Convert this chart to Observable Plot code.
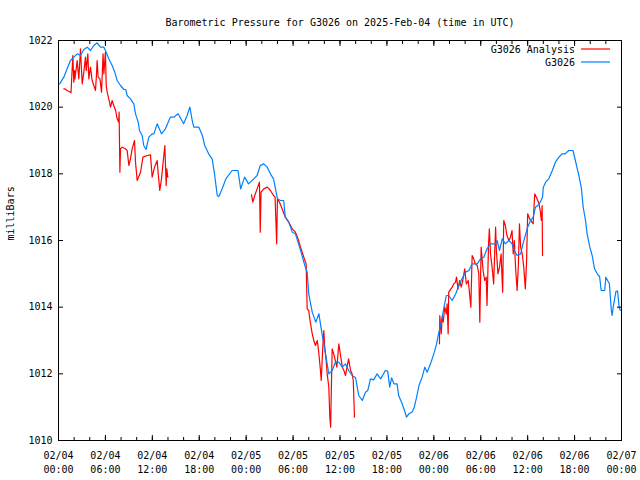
<!DOCTYPE html>
<html>
<head>
<meta charset="utf-8">
<script src="https://cdn.jsdelivr.net/npm/d3@7"></script>
<script src="https://cdn.jsdelivr.net/npm/@observablehq/plot@0.6"></script>
<style>
  html, body { margin: 0; padding: 0; background: #ffffff; }
</style>
</head>
<body>
<div id="chart"></div>
<script>
// ---------- text ----------
const titleText = "Barometric Pressure for G3026 on 2025-Feb-04 (time in UTC)";
const yAxisLabel = "milliBars";
const seriesNames = ["G3026 Analysis", "G3026"];
const seriesColors = ["#ff0000", "#0080ff"];

// ---------- axes ----------
const startUTC = Date.UTC(2025, 1, 4, 0, 0);   // 02/04 00:00
const xDomainHours = [0, 72];
const xMajorHours = [0, 6, 12, 18, 24, 30, 36, 42, 48, 54, 60, 66, 72];
const xMinorHours = [0, 2, 4, 6, 8, 10, 12, 14, 16, 18, 20, 22, 24, 26, 28, 30, 32, 34, 36, 38, 40, 42, 44, 46, 48, 50, 52, 54, 56, 58, 60, 62, 64, 66, 68, 70, 72];
const yDomain = [1010, 1022];
const yTicks = [1010, 1012, 1014, 1016, 1018, 1020, 1022];

// ---------- G3026 observations (hours since 02/04 00:00 UTC, mb) ----------
const obsHours = [0.15,0.68,1.1,1.53,1.96,2.39,2.81,3.24,3.67,4.09,4.52,4.94,5.37,5.8,6.0,6.43,6.86,7.2,7.5,7.93,8.35,8.6,8.78,9.2,9.63,9.85,10.19,10.36,10.7,10.9,11.2,11.55,11.98,12.2,12.62,13.17,13.68,14.3,14.74,15.3,16.0,16.45,16.8,17.1,17.3,17.95,18.4,18.7,19.2,19.65,19.95,20.3,20.5,20.9,21.4,22.2,22.95,23.3,23.8,24.3,24.97,25.4,25.8,26.25,26.7,27.1,27.5,28.0,28.4,28.8,29.0,29.45,29.9,30.3,30.7,31.15,31.5,31.8,32.0,32.45,32.9,33.3,33.7,34.15,34.57,35.0,35.4,35.85,36.3,36.7,37.1,37.55,38.0,38.2,38.4,38.85,39.26,39.55,39.9,40.3,40.75,41.2,41.8,42.1,42.36,42.6,42.9,43.3,43.5,43.95,44.25,44.5,44.8,45.2,45.5,45.8,46.1,46.5,46.85,47.15,47.57,48.0,48.35,48.6,48.95,49.3,49.6,49.9,50.35,50.8,51.2,51.6,52.05,52.5,52.9,53.55,53.97,54.4,54.8,55.25,55.9,56.1,56.4,56.75,57.15,57.6,58.0,58.3,58.65,59.1,59.4,59.75,60.0,60.36,60.7,61.0,61.3,61.6,61.9,62.0,62.3,62.7,63.15,63.55,64.0,64.4,64.8,65.25,65.8,66.1,66.5,66.85,67.1,67.4,67.6,67.95,68.25,68.55,68.9,69.2,69.4,69.85,70.0,70.45,70.7,70.8,71.0,71.3,71.5,71.7,71.85];
const obsPressure = [1020.7,1020.9,1021.15,1021.4,1021.5,1021.6,1021.55,1021.73,1021.8,1021.7,1021.85,1021.93,1021.8,1021.8,1021.7,1021.45,1021.25,1021.05,1020.8,1020.65,1020.53,1020.53,1020.35,1020.25,1020.1,1019.8,1019.55,1019.3,1019.15,1018.85,1018.73,1019.1,1019.2,1019.2,1019.5,1019.2,1019.35,1019.7,1019.7,1019.8,1019.5,1019.75,1020.0,1019.6,1019.4,1019.4,1019.15,1018.85,1018.6,1018.45,1018.0,1017.35,1017.32,1017.53,1017.85,1018.1,1018.1,1017.55,1017.9,1017.7,1017.85,1017.95,1018.25,1018.3,1018.2,1018.0,1017.85,1017.25,1017.2,1017.2,1016.7,1016.55,1016.25,1016.2,1015.9,1015.55,1015.25,1015.05,1014.4,1013.85,1013.55,1013.8,1013.2,1012.6,1012.0,1012.1,1012.35,1012.35,1012.2,1012.3,1012.1,1011.95,1011.88,1011.6,1011.35,1011.2,1011.45,1011.5,1011.85,1011.82,1012.0,1011.85,1012.1,1012.08,1011.6,1011.88,1011.7,1011.7,1011.35,1011.1,1010.9,1010.7,1010.8,1010.85,1011.0,1011.3,1011.65,1011.9,1012.2,1012.05,1012.3,1012.6,1012.9,1013.2,1013.55,1014.0,1014.35,1014.35,1014.2,1014.4,1014.65,1014.85,1015.05,1015.1,1015.3,1015.3,1015.45,1015.5,1015.75,1015.9,1015.9,1016.0,1015.7,1016.05,1015.9,1016.0,1015.9,1015.7,1015.55,1015.6,1015.9,1016.2,1016.4,1016.6,1016.7,1017.0,1017.05,1017.15,1017.3,1017.6,1017.75,1017.85,1018.1,1018.35,1018.5,1018.6,1018.6,1018.7,1018.7,1018.4,1018.0,1017.6,1017.0,1016.6,1016.2,1015.8,1015.55,1015.15,1015.0,1014.92,1014.5,1014.5,1014.9,1014.7,1013.9,1013.75,1014.1,1014.48,1014.48,1014.0,1013.9];

// ---------- G3026 Analysis (null = gap in the record) ----------
const anaHours = [0.68,0.8,1.1,1.53,1.6,1.83,1.96,2.05,2.1,2.39,2.6,2.81,3.03,3.24,3.45,3.55,3.75,3.88,4.09,4.3,4.52,4.73,4.85,4.94,5.07,5.3,5.5,5.7,5.8,6.0,6.1,6.23,6.52,6.65,6.86,7.07,7.3,7.5,7.7,7.75,7.85,7.93,8.14,8.57,8.78,9.0,9.2,9.42,9.72,9.85,10.06,10.49,10.8,11.34,11.76,11.98,12.28,12.62,12.7,12.95,13.17,13.34,13.6,13.77,13.85,13.98,
  19.0,
  24.68,24.85,25.1,25.4,25.7,25.8,25.9,26.25,26.7,27.1,27.5,27.7,27.9,28.0,28.26,28.6,29.0,29.45,29.9,30.3,30.64,30.95,31.37,31.67,31.8,32.0,32.2,32.45,32.65,32.86,33.1,33.3,33.5,33.6,33.8,33.93,34.05,34.23,34.36,34.57,34.7,34.8,34.9,35.0,35.2,35.4,35.6,35.85,36.1,36.3,36.5,36.7,36.9,37.1,37.35,37.55,37.7,37.85,
  43.0,
  48.72,48.76,48.95,49.06,49.2,49.4,49.6,49.7,49.83,49.9,50.35,50.55,50.77,50.9,51.1,51.3,51.5,51.7,51.95,52.15,52.4,52.55,52.73,52.9,53.1,53.3,53.55,53.75,53.88,54.05,54.3,54.5,54.7,54.8,55.0,55.1,55.25,55.45,55.65,55.9,56.0,56.2,56.4,56.6,56.8,56.94,57.15,57.35,57.6,57.8,58.0,58.15,58.3,58.45,58.65,58.8,58.95,59.1,59.3,59.5,59.7,59.85,60.0,60.25,60.55,60.7,60.9,61.2,61.45,61.6,61.75,61.85,61.9];
const anaPressure = [1020.55,1020.55,1020.5,1020.45,1020.43,1021.55,1020.75,1021.1,1020.85,1021.4,1020.85,1021.75,1020.7,1021.05,1021.5,1021.1,1021.6,1020.85,1021.2,1020.8,1020.65,1020.5,1020.95,1021.4,1020.9,1020.85,1020.45,1021.6,1021.0,1021.65,1020.65,1020.45,1020.15,1020.0,1020.2,1020.05,1019.9,1019.65,1019.55,1019.85,1018.05,1018.75,1018.8,1018.75,1018.7,1018.25,1018.45,1018.75,1019.0,1018.35,1017.8,1018.05,1018.5,1018.55,1018.57,1017.9,1018.2,1018.4,1018.15,1017.5,1017.85,1018.25,1018.85,1017.65,1018.15,1017.9,
  null,
  1017.37,1017.15,1017.35,1017.55,1017.75,1016.25,1017.45,1017.55,1017.6,1017.5,1017.35,1017.3,1015.9,1017.25,1017.15,1016.95,1016.7,1016.55,1016.35,1016.25,1016.05,1015.8,1015.5,1015.3,1013.95,1013.9,1013.55,1013.2,1013.0,1012.85,1013.0,1012.6,1012.1,1011.8,1012.8,1013.3,1012.8,1012.4,1012.0,1011.6,1010.7,1010.4,1011.6,1012.75,1012.6,1012.4,1012.2,1012.9,1012.5,1012.2,1012.1,1011.95,1012.2,1012.45,1012.1,1012.0,1011.8,1010.7,
  null,
  1012.9,1013.75,1013.2,1013.7,1013.55,1014.0,1013.8,1014.1,1013.2,1014.45,1014.6,1014.7,1014.75,1014.9,1014.55,1014.8,1014.6,1014.8,1015.15,1014.7,1014.8,1014.45,1014.0,1015.55,1015.45,1015.3,1015.25,1015.0,1013.55,1015.8,1015.1,1014.8,1014.9,1014.05,1015.9,1016.35,1015.6,1015.2,1014.7,1016.4,1015.7,1015.0,1015.2,1015.6,1014.45,1016.6,1016.45,1016.15,1016.0,1016.1,1016.3,1015.6,1016.0,1015.2,1014.5,1015.2,1016.5,1015.8,1015.6,1015.2,1014.55,1015.3,1016.8,1016.65,1016.55,1016.5,1017.4,1017.25,1017.1,1016.9,1016.6,1017.05,1015.55];

// ---------- build tables ----------
const toDate = h => new Date(startUTC + h * 3600e3);
const obsRows = obsHours.map((h, i) => ({t: toDate(h), p: obsPressure[i]}));
const anaRows = anaHours.map((h, i) => ({t: toDate(h), p: anaPressure[i]}));
const majorDates = xMajorHours.map(toDate);
const minorDates = xMinorHours.map(toDate);
const fmtX = d3.utcFormat("%m/%d\n%H:%M");

const FONT = "'DejaVu Sans Mono', 'Liberation Mono', monospace";
const W = 640, H = 480;
const M = {top: 40, right: 19, bottom: 40, left: 58};
const blank = () => "";

const chart = Plot.plot({
  width: W,
  height: H,
  marginTop: M.top,
  marginRight: M.right,
  marginBottom: M.bottom,
  marginLeft: M.left,
  style: {fontFamily: FONT, fontSize: "10px", background: "#ffffff", color: "#000"},
  x: {type: "utc", domain: xDomainHours.map(toDate)},
  y: {type: "linear", domain: yDomain},
  marks: [
    Plot.line(anaRows, {x: "t", y: "p", stroke: seriesColors[0], strokeWidth: 1.2}),
    Plot.line(obsRows, {x: "t", y: "p", stroke: seriesColors[1], strokeWidth: 1.2}),
    Plot.frame({stroke: "#000", strokeWidth: 1}),
    // inward tick marks, all four sides
    Plot.axisY({ticks: yTicks, anchor: "left", tickSize: 5, dx: 5, tickFormat: blank, label: null}),
    Plot.axisY({ticks: yTicks, anchor: "right", tickSize: 5, dx: -5, tickFormat: blank, label: null}),
    Plot.axisX({ticks: majorDates, anchor: "bottom", tickSize: 5, dy: -5, tickFormat: blank, label: null}),
    Plot.axisX({ticks: minorDates, anchor: "bottom", tickSize: 3, dy: -3, tickFormat: blank, label: null}),
    Plot.axisX({ticks: majorDates, anchor: "top", tickSize: 5, dy: 5, tickFormat: blank, label: null}),
    Plot.axisX({ticks: minorDates, anchor: "top", tickSize: 3, dy: 3, tickFormat: blank, label: null}),
    // tick labels
    Plot.axisY({ticks: yTicks, anchor: "left", tickSize: 0, tickPadding: 6, tickFormat: d => `${d}`, label: null}),
    Plot.axisX({ticks: majorDates, anchor: "bottom", tickSize: 0, tickPadding: 9, tickFormat: fmtX, lineHeight: 1.4, label: null}),
    // title and y label
    Plot.text([titleText], {frameAnchor: "top", dy: -22, fontSize: 10}),
    Plot.text([yAxisLabel], {frameAnchor: "left", dx: -48, rotate: -90, fontSize: 10})
  ]
});

// ---------- legend (top-right, inside the frame) ----------
const svg = d3.select(chart);
const lg = svg.append("g").attr("font-family", FONT).attr("font-size", 10);
const legendRight = W - M.right;
seriesNames.forEach((name, i) => {
  const y = M.top + 9 + i * 13;
  lg.append("text")
    .attr("x", legendRight - 46).attr("y", y).attr("dy", "0.35em")
    .attr("text-anchor", "end").attr("fill", "#000").text(name);
  lg.append("line")
    .attr("x1", legendRight - 40).attr("x2", legendRight - 11)
    .attr("y1", y).attr("y2", y)
    .attr("stroke", seriesColors[i]).attr("stroke-width", 1.2);
});

document.getElementById("chart").appendChild(chart);
</script>
</body>
</html>
